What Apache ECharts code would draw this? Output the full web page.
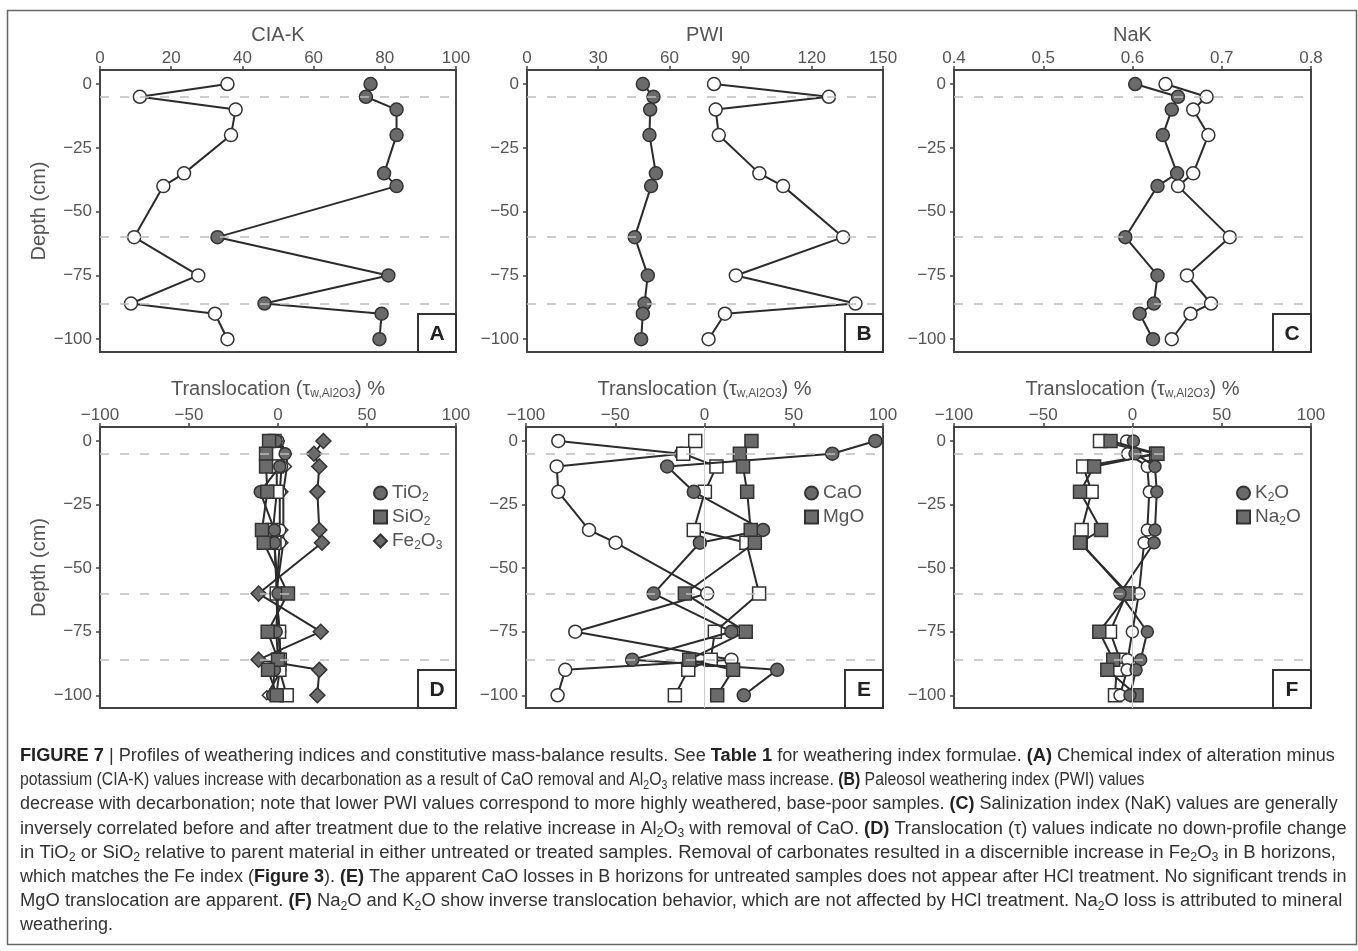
<!DOCTYPE html>
<html>
<head>
<meta charset="utf-8">
<script src="https://cdn.jsdelivr.net/npm/echarts@6/dist/echarts.min.js"></script>
<style>
  html, body { margin: 0; padding: 0; background: #fff; }
  #chart { width: 1358px; height: 951px; }
</style>
</head>
<body>
<div id="chart"></div>
<script>
// sample depths (cm), horizon boundaries
const depths = [0, -5, -10, -20, -35, -40, -60, -75, -86, -90, -100];
const horizonLines = [-5, -60, -86];
const depthTicks = [0, -25, -50, -75, -100];

// A: CIA-K (open = untreated, filled = HCl treated)
const ciaOpen = [35.8, 11.2, 38.1, 36.8, 23.6, 17.8, 9.6, 27.6, 8.7, 32.3, 35.8];
const ciaFilled = [76.0, 74.7, 83.3, 83.3, 79.8, 83.3, 33.0, 81.0, 46.2, 79.1, 78.5];

// B: PWI
const pwiFilled = [48.8, 53.3, 51.9, 51.6, 54.3, 52.3, 45.4, 50.9, 49.5, 48.8, 48.1];
const pwiOpen = [78.8, 127.2, 79.5, 80.8, 97.9, 107.9, 133.2, 88.0, 138.4, 83.4, 76.5];

// C: NaK
const nakFilled = [0.603, 0.651, 0.644, 0.634, 0.650, 0.628, 0.592, 0.628, 0.624, 0.608, 0.623];
const nakOpen = [0.637, 0.683, 0.668, 0.685, 0.668, 0.651, 0.709, 0.661, 0.688, 0.665, 0.644];

// D: translocation TiO2 / SiO2 / Fe2O3
const tioFilled = [-1, 4, 1, -10, -2, -2, 0, -1, 0, -2, -3];
const tioOpen = [0, 3, 2, 1, 1, 1, -1, 1, 1, 1, -1];
const sioFilled = [-5, -6.7, -6.7, -6, -9, -8, 5.6, -5.8, 0, -5.6, -0.7];
const sioOpen = [-2, -0.7, -0.7, -0.7, -2.8, -2, -0.7, 0.6, 1, 0.8, 4.9];
const feFilled = [25.5, 20.2, 23.2, 22.1, 23.2, 24.7, -10.9, 24.0, -10.9, 23.2, 22.1];
const feOpen = [1, 5, 5, 3, 3, 3, -1, 0, 2, 2, -6.3];

// E: translocation CaO / MgO
const caoFilled = [95.7, 71.6, -20.9, -6.0, 32.8, -2.6, -28.5, 15.1, -40.5, 40.7, 22.0];
const caoOpen = [-81.9, -13.0, -82.8, -81.9, -64.7, -49.8, 1.5, -72.4, 15.1, -78.0, -82.3];
const mgoFilled = [26.3, 19.8, 21.6, 23.9, 25.9, 28.2, -11.0, 23.1, -8.6, 16.0, 7.1];
const mgoOpen = [-5.2, -11.9, 6.7, 0.2, -6.0, 23.5, 30.6, 5.8, 3.5, -9.1, -16.6];

// F: translocation K2O / Na2O
const k2oFilled = [0.5, 1.4, 12.6, 13.6, 12.6, 12.1, -7.0, 8.3, 4.6, 2.0, -1.4];
const k2oOpen = [-3.3, -2.7, 8.3, 9.4, 8.3, 6.5, 3.6, -0.1, -2.7, -3.0, -7.0];
const na2oFilled = [-12.3, 14.0, -21.5, -29.4, -17.6, -29.4, -2.3, -18.6, -10.8, -14.1, 2.3];
const na2oOpen = [-18.2, 13.2, -27.6, -22.9, -28.5, -29.0, -3.3, -12.6, -7.0, -8.9, -9.8];

const FONT = '"Liberation Sans", Arial, sans-serif';
const TXT = '#555';
const FRAME = '#444';

// plot frames (px) for panels A-F
const grids = [
  { left: 100, top: 70, width: 356, height: 282 },
  { left: 527, top: 70, width: 356, height: 282 },
  { left: 954, top: 70, width: 357, height: 282 },
  { left: 100, top: 427, width: 356, height: 281 },
  { left: 526, top: 427, width: 357, height: 281 },
  { left: 954, top: 427, width: 357, height: 281 }
];
const panelLetters = ['A', 'B', 'C', 'D', 'E', 'F'];

const minus = v => (v < 0 ? '\u2212' + Math.abs(v) : String(v));
const subRich = {
  s: { fontSize: 12, verticalAlign: 'bottom', lineHeight: 12, fontFamily: FONT, color: TXT }
};
const transName = '{n|Translocation (\u03c4}{s|w,Al2O3}{n|) %}';

function xAxis(idx, min, max, interval, name, fmt) {
  return {
    type: 'value', gridIndex: idx, position: 'top', min, max, interval,
    name, nameLocation: 'middle', nameGap: idx < 3 ? 25 : 27,
    nameTextStyle: {
      fontSize: 20, color: TXT, fontFamily: FONT,
      rich: {
        n: { fontSize: 20, color: TXT, fontFamily: FONT, lineHeight: 22 },
        s: { fontSize: 12, color: TXT, fontFamily: FONT, verticalAlign: 'bottom', lineHeight: 12 }
      }
    },
    axisLine: { show: true, onZero: false, lineStyle: { color: FRAME, width: 2 } },
    axisTick: { show: true, inside: false, length: 4, lineStyle: { color: FRAME, width: 1.5 } },
    axisLabel: { margin: 3, fontSize: 17, color: TXT, fontFamily: FONT, formatter: fmt },
    splitLine: { show: false }
  };
}

function yAxis(idx) {
  return {
    type: 'value', gridIndex: idx, min: -105, max: 5.5,
    name: (idx === 0 || idx === 3) ? 'Depth (cm)' : '',
    nameLocation: 'middle', nameGap: 44,
    nameTextStyle: { fontSize: 20, color: TXT, fontFamily: FONT },
    axisLine: { show: true, onZero: false, lineStyle: { color: FRAME, width: 2 } },
    axisTick: { show: true, length: 4, customValues: depthTicks, lineStyle: { color: FRAME, width: 1.5 } },
    axisLabel: { margin: 8, fontSize: 17, color: TXT, fontFamily: FONT, customValues: depthTicks, formatter: minus },
    splitLine: { show: false }
  };
}

function guides(withZero) {
  const data = horizonLines.map(v => ({ yAxis: v }));
  if (withZero) {
    data.push({ xAxis: 0, lineStyle: { color: '#cfcfcf', width: 1, type: 'solid' } });
  }
  return {
    silent: true, symbol: 'none', animation: false, label: { show: false },
    lineStyle: { color: '#bdbdbd', width: 1.5, type: [9, 11] },
    emphasis: { disabled: true }, data
  };
}

function profile(name, values, idx, symbol, filled, size, mark) {
  const s = {
    name, type: 'line', xAxisIndex: idx, yAxisIndex: idx,
    data: depths.map((d, i) => [values[i], d]),
    symbol, symbolSize: size, showSymbol: true, showAllSymbol: true,
    clip: false, animation: false,
    lineStyle: { color: '#2b2b2b', width: 2 },
    itemStyle: { color: filled ? '#6b6b6b' : '#fff', borderColor: '#333', borderWidth: 1.5 },
    emphasis: { disabled: true },
    z: filled ? 3 : 2
  };
  if (mark) s.markLine = mark;
  return s;
}

const legendStyle = (left) => ({
  orient: 'vertical', left, top: 477, itemWidth: 13, itemHeight: 13, itemGap: 2,
  selectedMode: false,
  textStyle: { fontSize: 19, color: TXT, fontFamily: FONT, lineHeight: 22, rich: subRich },
  formatter: name => name.replace(/(\d)/g, '{s|$1}')
});

const graphics = [];
// outer figure border
graphics.push({
  type: 'rect', silent: true, z: 0,
  shape: { x: 7.5, y: 10.5, width: 1349, height: 934 },
  style: { fill: 'none', stroke: '#666', lineWidth: 1.5 }
});
// panel letter boxes
grids.forEach((g, i) => {
  graphics.push({
    type: 'rect', silent: true, z: 10,
    shape: { x: g.left + g.width - 38, y: g.top + g.height - 38, width: 38, height: 38 },
    style: { fill: '#fff', stroke: '#333', lineWidth: 2 }
  });
  graphics.push({
    type: 'text', silent: true, z: 11,
    x: g.left + g.width - 19, y: g.top + g.height - 18,
    style: { text: panelLetters[i], fill: '#222', font: 'bold 21px ' + FONT, align: 'center', verticalAlign: 'middle' }
  });
});

// caption (horizontal squeeze per line follows the original typesetting)
const captionLines = [
  '{b|FIGURE 7} | Profiles of weathering indices and constitutive mass-balance results. See {b|Table 1} for weathering index formulae. {b|(A)} Chemical index of alteration minus',
  'potassium (CIA-K) values increase with decarbonation as a result of CaO removal and Al{s|2}O{s|3} relative mass increase. {b|(B)} Paleosol weathering index (PWI) values',
  'decrease with decarbonation; note that lower PWI values correspond to more highly weathered, base-poor samples. {b|(C)} Salinization index (NaK) values are generally',
  'inversely correlated before and after treatment due to the relative increase in Al{s|2}O{s|3} with removal of CaO. {b|(D)} Translocation (\u03c4) values indicate no down-profile change',
  'in TiO{s|2} or SiO{s|2} relative to parent material in either untreated or treated samples. Removal of carbonates resulted in a discernible increase in Fe{s|2}O{s|3} in B horizons,',
  'which matches the Fe index ({b|Figure 3}). {b|(E)} The apparent CaO losses in B horizons for untreated samples does not appear after HCl treatment. No significant trends in',
  'MgO translocation are apparent. {b|(F)} Na{s|2}O and K{s|2}O show inverse translocation behavior, which are not affected by HCl treatment. Na{s|2}O loss is attributed to mineral',
  'weathering.'
];
const captionScale = [1.01, 0.88, 1.0, 1.01, 1.03, 1.0, 1.02, 1.0];
captionLines.forEach((line, i) => {
  graphics.push({
    type: 'text', silent: true, z: 5,
    x: 20, y: 756 + i * 24.2, scaleX: captionScale[i],
    style: {
      text: line, fill: '#333', fontSize: 18, fontFamily: FONT, lineHeight: 22,
      verticalAlign: 'middle',
      rich: {
        b: { fontWeight: 'bold', fontSize: 18, fontFamily: FONT, fill: '#222', lineHeight: 22 },
        s: { fontSize: 12, fontFamily: FONT, fill: '#333', verticalAlign: 'bottom', lineHeight: 12 }
      }
    }
  });
});

const option = {
  backgroundColor: '#fff',
  animation: false,
  grid: grids.map(g => Object.assign({ show: true, borderColor: FRAME, borderWidth: 2, backgroundColor: 'transparent' }, g)),
  xAxis: [
    xAxis(0, 0, 100, 20, 'CIA-K', v => String(v)),
    xAxis(1, 0, 150, 30, 'PWI', v => String(v)),
    xAxis(2, 0.4, 0.8, 0.1, 'NaK', v => v.toFixed(1)),
    xAxis(3, -100, 100, 50, transName, minus),
    xAxis(4, -100, 100, 50, transName, minus),
    xAxis(5, -100, 100, 50, transName, minus)
  ],
  yAxis: [0, 1, 2, 3, 4, 5].map(yAxis),
  legend: [
    Object.assign(legendStyle(368), { data: [{ name: 'TiO2', icon: 'circle' }, { name: 'SiO2', icon: 'rect' }, { name: 'Fe2O3', icon: 'diamond' }] }),
    Object.assign(legendStyle(799), { data: [{ name: 'CaO', icon: 'circle' }, { name: 'MgO', icon: 'rect' }] }),
    Object.assign(legendStyle(1231), { data: [{ name: 'K2O', icon: 'circle' }, { name: 'Na2O', icon: 'rect' }] })
  ],
  series: [
    profile('CIA-K untreated', ciaOpen, 0, 'circle', false, 13, guides(false)),
    profile('CIA-K treated', ciaFilled, 0, 'circle', true, 13),
    profile('PWI treated', pwiFilled, 1, 'circle', true, 13, guides(false)),
    profile('PWI untreated', pwiOpen, 1, 'circle', false, 13),
    profile('NaK treated', nakFilled, 2, 'circle', true, 13, guides(false)),
    profile('NaK untreated', nakOpen, 2, 'circle', false, 13),

    profile('Fe2O3', feFilled, 3, 'diamond', true, 15, guides(false)),
    profile('Fe2O3 HCl', feOpen, 3, 'diamond', false, 9),
    profile('TiO2 HCl', tioOpen, 3, 'circle', false, 12),
    profile('TiO2', tioFilled, 3, 'circle', true, 12),
    profile('SiO2 HCl', sioOpen, 3, 'rect', false, 13),
    profile('SiO2', sioFilled, 3, 'rect', true, 13),

    profile('CaO untreated', caoOpen, 4, 'circle', false, 13, guides(true)),
    profile('CaO', caoFilled, 4, 'circle', true, 13),
    profile('MgO HCl', mgoOpen, 4, 'rect', false, 13),
    profile('MgO', mgoFilled, 4, 'rect', true, 13),

    profile('Na2O HCl', na2oOpen, 5, 'rect', false, 13, guides(true)),
    profile('Na2O', na2oFilled, 5, 'rect', true, 13),
    profile('K2O HCl', k2oOpen, 5, 'circle', false, 12),
    profile('K2O', k2oFilled, 5, 'circle', true, 12)
  ],
  graphic: graphics
};

const chart = echarts.init(document.getElementById('chart'), null, { renderer: 'canvas' });
chart.setOption(option);
window.addEventListener('resize', () => chart.resize());
</script>
</body>
</html>
